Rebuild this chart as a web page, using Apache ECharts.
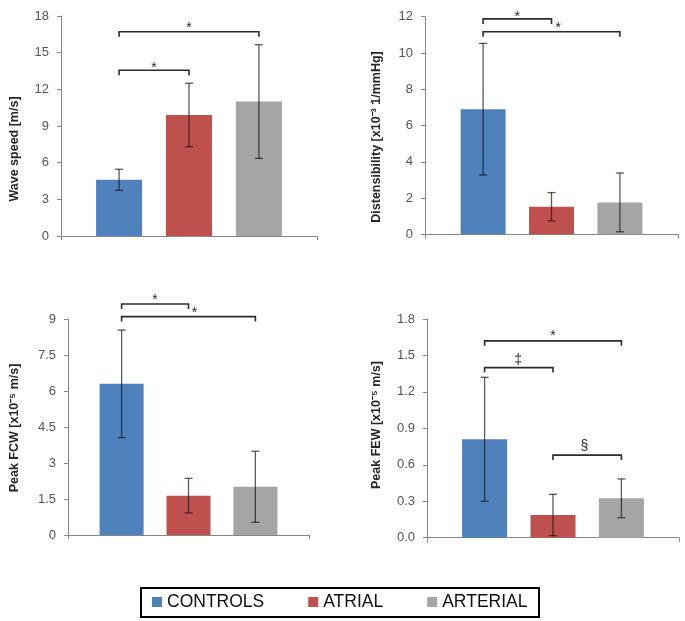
<!DOCTYPE html>
<html><head><meta charset="utf-8">
<script src="https://cdn.jsdelivr.net/npm/echarts@6/dist/echarts.min.js"></script>
<style>html,body{margin:0;padding:0;background:#fff}#c{width:685px;height:621px}</style>
</head><body><div id="c"></div>
<script>
// ---- data ----
const groups = ['CONTROLS', 'ATRIAL', 'ARTERIAL'];
const colors = ['#4F81BD', '#C0504D', '#A5A5A5'];

const waveSpeed = [4.6, 9.9, 11.0];
const waveSpeedSD = [0.86, 2.6, 4.65];
const distensibility = [6.9, 1.52, 1.76];
const distensibilitySD = [3.63, 0.78, 1.62];
const peakFCW = [6.3, 1.64, 2.01];
const peakFCWSD = [2.24, 0.72, 1.48];
const peakFEW = [0.81, 0.187, 0.324];
const peakFEWSD = [0.51, 0.17, 0.16];

const titles = ['Wave speed [m/s]', 'Distensibility [x10\u207B\u00B3 1/mmHg]', 'Peak FCW [x10\u207B\u2075 m/s]', 'Peak FEW [x10\u207B\u2075 m/s]'];
const yMax = [18, 12, 9, 1.8];
const yStep = [3, 2, 1.5, 0.3];
const yDecimals = [null, null, null, 1];

// significance brackets: [fromGroup, toGroup, level, mark, markAt (group units), markLevel]
const wsBrackets = [[0, 1, 13.56, '*', 0.5, 13.95], [0, 2, 16.71, '*', 1, 17.26]];
const dBrackets = [[0, 1, 11.88, '*', 0.5, 12.15], [0, 2, 11.17, '*', 1.1, 11.54]];
const fcwBrackets = [[0, 1, 9.625, '*', 0.5, 9.89], [0, 2, 9.1, '*', 1.09, 9.375]];
const fewBrackets = [[0, 2, 1.62, '*', 1, 1.685], [0, 1, 1.40, '\u2021', 0.49, 1.46], [1, 2, 0.68, '\u00A7', 1.46, 0.75]];

// ---- layout ----
const panels = [
  { vals: waveSpeed, sd: waveSpeedSD, br: wsBrackets, grid: { left: 61, right: 368, top: 16, bottom: 385 }, barW: 46, tx: 15, ty: 149 },
  { vals: distensibility, sd: distensibilitySD, br: dBrackets, grid: { left: 425, right: 7, top: 16.7, bottom: 386.7 }, barW: 45, tx: 377, ty: 137 },
  { vals: peakFCW, sd: peakFCWSD, br: fcwBrackets, grid: { left: 68, right: 376, top: 319, bottom: 86 }, barW: 44, tx: 15, ty: 428 },
  { vals: peakFEW, sd: peakFEWSD, br: fewBrackets, grid: { left: 427, right: 6, top: 319, bottom: 83.3 }, barW: 45, tx: 377, ty: 425 }
];
const GAP = 0.52;
const axisColor = '#868686';
const font = 'Liberation Sans, Arial, sans-serif';

const grids = [], xAxes = [], yAxes = [], series = [], graphics = [];
panels.forEach((p, pi) => {
  const pitch = p.barW * (1 + GAP);
  grids.push(Object.assign({ containLabel: false }, p.grid));
  xAxes.push({
    type: 'category', gridIndex: pi, data: [''],
    axisLine: { lineStyle: { color: axisColor, width: 1 } },
    axisTick: { show: true, length: 4, lineStyle: { color: axisColor } },
    axisLabel: { show: false }
  });
  yAxes.push({
    type: 'value', gridIndex: pi, min: 0, max: yMax[pi], interval: yStep[pi],
    axisLine: { show: true, lineStyle: { color: axisColor, width: 1 } },
    axisTick: { show: true, length: 4, lineStyle: { color: axisColor } },
    splitLine: { show: false },
    axisLabel: {
      color: '#555555', fontSize: 13, fontFamily: font, margin: 12,
      formatter: yDecimals[pi] != null ? (v => v.toFixed(yDecimals[pi])) : (v => String(+v.toFixed(2)))
    }
  });
  groups.forEach((g, gi) => {
    series.push({
      type: 'bar', name: g, xAxisIndex: pi, yAxisIndex: pi,
      data: [p.vals[gi]], barWidth: p.barW, barGap: (GAP * 100) + '%',
      itemStyle: { color: colors[gi] }
    });
  });
  // error bars
  series.push({
    type: 'custom', xAxisIndex: pi, yAxisIndex: pi, clip: false, z: 5,
    data: p.vals.map((v, i) => [0, v, p.sd[i], i]),
    encode: { x: 0, y: 1 },
    renderItem: (params, api) => {
      const v = api.value(1), s = api.value(2), i = api.value(3);
      const c = api.coord([0, v]);
      const x = c[0] + (i - 1) * pitch;
      const yt = api.coord([0, v + s])[1];
      const yb = api.coord([0, v - s])[1];
      const st = { stroke: 'rgba(20,20,20,0.7)', lineWidth: 1.3 };
      return {
        type: 'group', children: [
          { type: 'line', shape: { x1: x, y1: yt, x2: x, y2: yb }, style: st },
          { type: 'line', shape: { x1: x - 4, y1: yt, x2: x + 4, y2: yt }, style: st },
          { type: 'line', shape: { x1: x - 4, y1: yb, x2: x + 4, y2: yb }, style: st }
        ]
      };
    }
  });
  // significance brackets
  series.push({
    type: 'custom', xAxisIndex: pi, yAxisIndex: pi, clip: false, z: 6,
    data: p.br.map(b => [0, b[2], b[0], b[1], b[4], b[5]]),
    encode: { x: 0, y: 1 },
    renderItem: (params, api) => {
      const lvl = api.value(1), f = api.value(2), t = api.value(3), ma = api.value(4), ml = api.value(5);
      const mark = p.br[params.dataIndex][3];
      const cx = api.coord([0, lvl])[0];
      const y = api.coord([0, lvl])[1];
      const x1 = cx + (f - 1) * pitch, x2 = cx + (t - 1) * pitch;
      const my = api.coord([0, ml])[1] + (mark === '*' ? 3 : 0);
      return {
        type: 'group', children: [
          { type: 'polyline', shape: { points: [[x1, y + 5], [x1, y], [x2, y], [x2, y + 5]] },
            style: { stroke: '#2b2b2b', lineWidth: 1.6, fill: null } },
          { type: 'text', x: cx + (ma - 1) * pitch, y: my,
            style: { text: mark, fill: '#2b2b2b', font: '14px ' + font, textAlign: 'center', textVerticalAlign: 'middle' } }
        ]
      };
    }
  });
  graphics.push({
    type: 'text', x: p.tx, y: p.ty, rotation: Math.PI / 2,
    style: { text: titles[pi], fill: '#262626', font: 'bold 12.5px ' + font, textAlign: 'center', textVerticalAlign: 'middle' }
  });
});

graphics.push({
  type: 'rect', shape: { x: 141, y: 588, width: 398, height: 29 },
  style: { fill: null, stroke: '#000', lineWidth: 2 }
});

const chart = echarts.init(document.getElementById('c'));
chart.setOption({
  animation: false,
  backgroundColor: '#fff',
  grid: grids, xAxis: xAxes, yAxis: yAxes, series: series,
  graphic: graphics,
  legend: {
    data: groups, left: 152, top: 593, padding: 0, itemGap: 44,
    icon: 'rect', itemWidth: 10, itemHeight: 10,
    textStyle: { fontSize: 17.5, color: '#111', fontFamily: font }
  }
});
</script>
</body></html>
